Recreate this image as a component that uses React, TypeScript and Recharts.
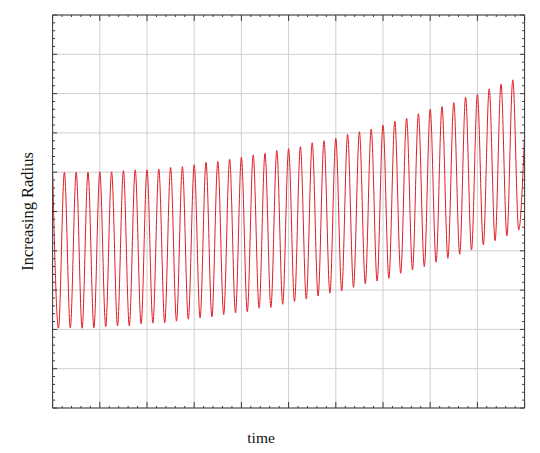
import React from 'react';
import { LineChart, Line, XAxis, YAxis, CartesianGrid } from 'recharts';

// Peak (crest) values of each oscillation, read left to right
const peakValues = [
  6.0, 6.0, 6.0, 6.0, 6.01, 6.01, 6.04, 6.06, 6.06, 6.08,
  6.12, 6.14, 6.19, 6.25, 6.27, 6.33, 6.38, 6.44, 6.48, 6.55,
  6.6, 6.65, 6.75, 6.8, 6.86, 6.96, 7.03, 7.1, 7.2, 7.3,
  7.37, 7.49, 7.6, 7.67, 7.77, 7.91, 7.98, 8.12, 8.24, 8.35,
];
// Trough values of each oscillation, read left to right
const troughValues = [
  2.03, 2.04, 2.03, 2.04, 2.07, 2.09, 2.09, 2.14, 2.16, 2.17,
  2.21, 2.26, 2.29, 2.32, 2.38, 2.42, 2.45, 2.54, 2.56, 2.64,
  2.71, 2.77, 2.85, 2.92, 2.98, 3.07, 3.16, 3.23, 3.3, 3.43,
  3.51, 3.6, 3.71, 3.81, 3.91, 4.02, 4.15, 4.26, 4.38, 4.53,
];
const endValue = 7.0;
const halfPeriod = 0.125;
const endTime = 10;

const majorTicks = [0, 1, 2, 3, 4, 5, 6, 7, 8, 9, 10];
const minorTicks = Array.from({ length: 51 }, (_, i) => i / 5);

const xTitle = 'time';
const yTitle = 'Increasing Radius';

const data: { t: number; r: number }[] = [];
peakValues.forEach((p, k) => {
  data.push({ t: 2 * k * halfPeriod, r: p });
  data.push({ t: (2 * k + 1) * halfPeriod, r: troughValues[k] });
});
data.push({ t: endTime, r: endValue });

const FRAME = '#3a3a3a';
const FONT = "'Liberation Serif', 'Times New Roman', serif";

const makeTick = (side: 'top' | 'bottom' | 'left' | 'right') => (props: any) => {
  const { x, y, payload } = props;
  const v = payload.value;
  const major = Math.abs(v - Math.round(v)) < 1e-6;
  const isX = side === 'top' || side === 'bottom';
  const len = isX ? (major ? 6 : 2) : major ? 4.5 : 2.5;
  let x2 = x;
  let y2 = y;
  if (side === 'bottom') y2 = y - len;
  if (side === 'top') y2 = y + len;
  if (side === 'left') x2 = x + len;
  if (side === 'right') x2 = x - len;
  return <line x1={x} y1={y} x2={x2} y2={y2} stroke={FRAME} strokeWidth={1} />;
};

export default function App() {
  return (
    <div style={{ position: 'absolute', left: 0, top: 0, background: '#fff' }}>
      <LineChart width={540} height={453} data={data} margin={{ top: 0, right: 0, bottom: 0, left: 0 }}>
        <CartesianGrid
          xAxisId="b"
          yAxisId="l"
          stroke="#cfcfcf"
          strokeWidth={1}
          horizontalValues={majorTicks}
          verticalValues={majorTicks}
        />
        <XAxis
          xAxisId="b"
          dataKey="t"
          type="number"
          domain={[0, 10]}
          allowDataOverflow
          ticks={minorTicks}
          interval={0}
          tickSize={0}
          tickMargin={0}
          tickLine={false}
          tick={makeTick('bottom')}
          axisLine={{ stroke: FRAME }}
          orientation="bottom"
          height={45}
          label={{ value: xTitle, position: 'center', dx: -27.5, dy: 6.5, fill: '#111', fontSize: 15.5, fontFamily: FONT }}
        />
        <XAxis
          xAxisId="t"
          dataKey="t"
          type="number"
          domain={[0, 10]}
          allowDataOverflow
          ticks={minorTicks}
          interval={0}
          tickSize={0}
          tickMargin={0}
          tickLine={false}
          tick={makeTick('top')}
          axisLine={{ stroke: FRAME }}
          orientation="top"
          height={15}
        />
        <YAxis
          yAxisId="l"
          type="number"
          domain={[0, 10]}
          allowDataOverflow
          ticks={minorTicks}
          interval={0}
          tickSize={0}
          tickMargin={0}
          tickLine={false}
          tick={makeTick('left')}
          axisLine={{ stroke: FRAME }}
          orientation="left"
          width={52.6}
          label={{ value: yTitle, angle: -90, position: 'center', dx: 0.5, fill: '#111', fontSize: 16.5, fontFamily: FONT }}
        />
        <YAxis
          yAxisId="r"
          type="number"
          domain={[0, 10]}
          allowDataOverflow
          ticks={minorTicks}
          interval={0}
          tickSize={0}
          tickMargin={0}
          tickLine={false}
          tick={makeTick('right')}
          axisLine={{ stroke: FRAME }}
          orientation="right"
          width={15.4}
        />
        <Line
          xAxisId="b"
          yAxisId="l"
          dataKey="r"
          type="monotone"
          stroke="#e01c26"
          strokeWidth={1}
          dot={false}
          isAnimationActive={false}
        />
      </LineChart>
    </div>
  );
}
